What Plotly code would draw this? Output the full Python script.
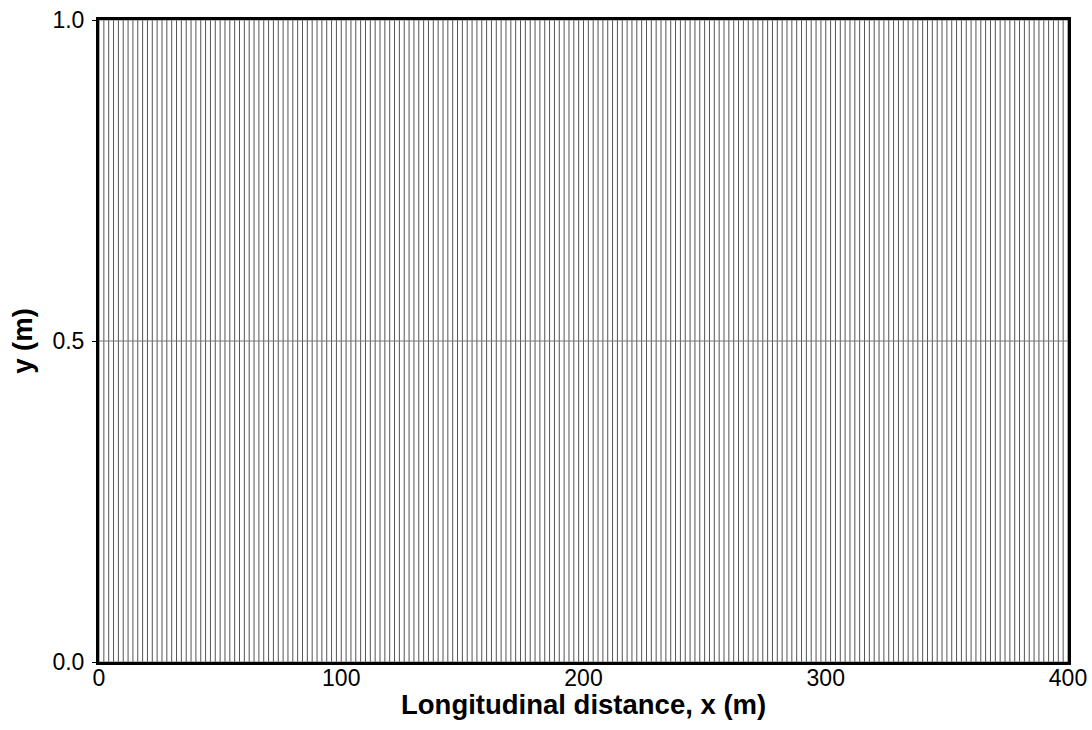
import plotly.graph_objects as go

# Mesh node x-positions (m)
mesh_x = [
    0, 2, 4, 6, 8, 10, 12, 14, 16, 18, 20, 22, 24, 26, 28, 30, 32, 34, 36, 38,
    40, 42, 44, 46, 48, 50, 52, 54, 56, 58, 60, 62, 64, 66, 68, 70, 72, 74, 76, 78,
    80, 82, 84, 86, 88, 90, 92, 94, 96, 98, 100, 102, 104, 106, 108, 110, 112, 114, 116, 118,
    120, 122, 124, 126, 128, 130, 132, 134, 136, 138, 140, 142, 144, 146, 148, 150, 152, 154, 156, 158,
    160, 162, 164, 166, 168, 170, 172, 174, 176, 178, 180, 182, 184, 186, 188, 190, 192, 194, 196, 198,
    200, 202, 204, 206, 208, 210, 212, 214, 216, 218, 220, 222, 224, 226, 228, 230, 232, 234, 236, 238,
    240, 242, 244, 246, 248, 250, 252, 254, 256, 258, 260, 262, 264, 266, 268, 270, 272, 274, 276, 278,
    280, 282, 284, 286, 288, 290, 292, 294, 296, 298, 300, 302, 304, 306, 308, 310, 312, 314, 316, 318,
    320, 322, 324, 326, 328, 330, 332, 334, 336, 338, 340, 342, 344, 346, 348, 350, 352, 354, 356, 358,
    360, 362, 364, 366, 368, 370, 372, 374, 376, 378, 380, 382, 384, 386, 388, 390, 392, 394, 396, 398,
    400,
]
# Mesh node y-positions (m)
mesh_y = [0.0, 0.5, 1.0]

x_ticks = [0, 100, 200, 300, 400]
x_tick_labels = ["0", "100", "200", "300", "400"]
y_ticks = [0.0, 0.5, 1.0]
y_tick_labels = ["0.0", "0.5", "1.0"]

x_title = "Longitudinal distance, x (m)"
y_title = "y (m)"

y_lo, y_hi = mesh_y[0], mesh_y[-1]
x_lo, x_hi = mesh_x[0], mesh_x[-1]

vx, vy = [], []
for xv in mesh_x:
    vx += [xv, xv, None]
    vy += [y_lo, y_hi, None]

hx, hy = [], []
for yv in mesh_y:
    hx += [x_lo, x_hi, None]
    hy += [yv, yv, None]

fig = go.Figure()
fig.add_trace(go.Scatter(x=vx, y=vy, mode="lines",
                         line=dict(color="#555555", width=1),
                         hoverinfo="skip", showlegend=False))
fig.add_trace(go.Scatter(x=hx, y=hy, mode="lines",
                         line=dict(color="#777777", width=1),
                         hoverinfo="skip", showlegend=False))

font_family = "Liberation Sans, Arial, sans-serif"
fig.update_layout(
    width=1092, height=730,
    margin=dict(l=99, r=24, t=20, b=68),
    paper_bgcolor="white", plot_bgcolor="white",
    font=dict(family=font_family, color="black", size=23),
    showlegend=False,
)
fig.update_xaxes(
    range=[0, 400], tickvals=x_ticks, ticktext=x_tick_labels,
    showgrid=False, zeroline=False, automargin=False,
    showline=True, linecolor="black", linewidth=3, mirror=True,
    ticks="", tickfont=dict(size=23), ticklabelstandoff=-7,
)
fig.update_yaxes(
    range=[0, 1], tickvals=y_ticks, ticktext=y_tick_labels,
    showgrid=False, zeroline=False, automargin=False,
    showline=True, linecolor="black", linewidth=3, mirror=True,
    ticks="outside", ticklen=4, tickcolor="black", tickwidth=1,
    tickfont=dict(size=23), ticklabelstandoff=3,
    title=dict(text="<b>" + y_title + "</b>", font=dict(size=27.5), standoff=12),
)
fig.add_annotation(
    text="<b>" + x_title + "</b>", xref="paper", yref="paper",
    x=0.5, y=0, yshift=-42, xanchor="center", yanchor="middle",
    showarrow=False, font=dict(size=27.5, family=font_family, color="black"),
)

fig.write_html(
    "out.html",
    config={"displayModeBar": False},
    post_script="document.body.style.margin='0';document.body.style.overflow='hidden';",
)
